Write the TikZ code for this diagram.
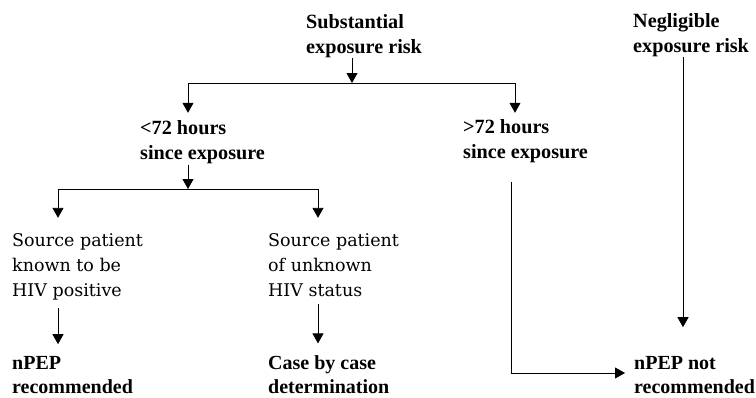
\documentclass[tikz,border=0pt]{standalone}
\usepackage{fontspec}
\setmainfont{Liberation Serif}
\newfontfamily\regfont{DejaVu Serif}
\usetikzlibrary{arrows.meta}
\tikzset{
  bold/.style={anchor=base west, inner sep=0pt, align=left, font=\fontsize{20.2}{25}\selectfont\bfseries},
  boldlow/.style={bold, font=\fontsize{20}{23.5}\selectfont\bfseries},
  reg/.style={anchor=base west, inner sep=0pt, align=left, font=\regfont\fontsize{17.5}{25}\selectfont},
  line/.style={line width=0.9pt},
  arr/.style={line, -{Triangle[width=11pt,length=10pt]}}
}
\begin{document}
\begin{tikzpicture}[x=1pt,y=-1pt]
\useasboundingbox (0,0) rectangle (756,397);
% nodes (anchored at the baseline of their last line)
\node[bold] (sub) at (306,53) {Substantial\\exposure risk};
\node[bold] (neg) at (633,52) {Negligible\\exposure risk};
\node[bold] (lt) at (140,159) {<72 hours\\since exposure};
\node[bold] (gt) at (463,158) {>72 hours\\since exposure};
\node[reg] (srcpos) at (12,296) {Source patient\\known to be\\HIV positive};
\node[reg] (srcunk) at (268,296) {Source patient\\of unknown\\HIV status};
\node[boldlow] (npep) at (12,393) {nPEP\\recommended};
\node[boldlow] (case) at (268,393) {Case by case\\determination};
\node[boldlow] (npepnot) at (634,393) {nPEP not\\recommended};
% junction coordinates
\coordinate (j1) at (352,83);
\coordinate (j1l) at (188,83);
\coordinate (j1r) at (515,83);
\coordinate (j2) at (188,189);
\coordinate (j2l) at (58,189);
\coordinate (j2r) at (318,189);
\coordinate (c1) at (511,373);
% connectors
\draw[arr] (sub.south -| j1) -- (j1);
\draw[line] (j1l) -- (j1r);
\draw[arr, shorten >=7pt] (j1l) -- (lt.north -| j1l);
\draw[arr, shorten >=6pt] (j1r) -- (gt.north -| j1r);
\draw[arr, shorten <=1pt] (lt.south -| j2) -- (j2);
\draw[line] (j2l) -- (j2r);
\draw[arr, shorten >=15pt] (j2l) -- (srcpos.north -| j2l);
\draw[arr, shorten >=15pt] (j2r) -- (srcunk.north -| j2r);
\draw[arr, shorten <=8pt, shorten >=12pt] (srcpos.south -| j2l) -- (npep.north -| j2l);
\draw[arr, shorten <=8pt, shorten >=12pt] (srcunk.south -| j2r) -- (case.north -| j2r);
\draw[arr, shorten <=19pt, shorten >=9pt] (gt.south -| c1) -- (c1) -- (c1 -| npepnot.west);
\draw[arr, shorten >=29pt] (neg.south -| 683,0) -- (npepnot.north -| 683,0);
\end{tikzpicture}
\end{document}
